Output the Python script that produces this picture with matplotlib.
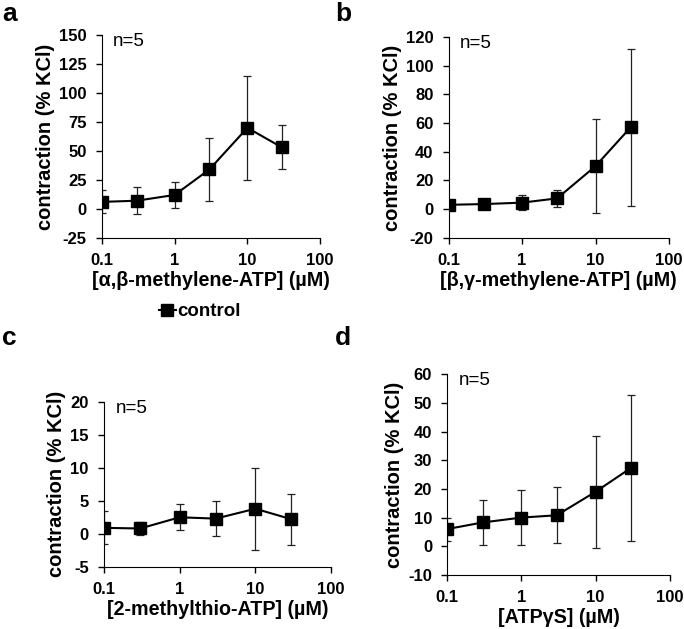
import matplotlib
matplotlib.use('Agg')
import matplotlib.pyplot as plt
from matplotlib.ticker import FixedLocator, NullLocator

plt.rcParams['font.family'] = ['Liberation Sans', 'DejaVu Sans']
plt.rcParams['axes.unicode_minus'] = False

# dados
conc = [0.1, 0.3, 1, 3, 10, 30]

a_mean = [6, 7, 12, 34, 70, 53]
a_err = [10, 11.5, 11, 27, 45, 19]

b_mean = [3, 3.5, 4.5, 7.5, 30, 57]
b_err = [0, 0, 5, 6, 33, 55]

c_mean = [0.9, 0.8, 2.5, 2.3, 3.8, 2.2]
c_err = [2.5, 1.0, 2.0, 2.7, 6.2, 3.9]

d_mean = [6, 8.3, 10, 10.8, 19, 27.3]
d_err = [4, 7.8, 9.5, 9.7, 19.5, 25.5]

xlabels = ['[α,β-methylene-ATP] (µM)', '[β,γ-methylene-ATP] (µM)',
           '[2-methylthio-ATP] (µM)', '[ATPγS] (µM)']
ylims = [(-25, 150), (-20, 120), (-5, 20), (-10, 60)]
yticks = [[-25, 0, 25, 50, 75, 100, 125, 150],
          [-20, 0, 20, 40, 60, 80, 100, 120],
          [-5, 0, 5, 10, 15, 20],
          [-10, 0, 10, 20, 30, 40, 50, 60]]
letters = ['a', 'b', 'c', 'd']

# posicoes dos eixos
positions = [[0.149, 0.622, 0.319, 0.322],
             [0.656, 0.622, 0.322, 0.319],
             [0.152, 0.099, 0.332, 0.262],
             [0.654, 0.086, 0.325, 0.319]]
letter_pos = [(0.003, 0.997), (0.490, 0.997), (0.003, 0.482), (0.490, 0.482)]

fig = plt.figure(figsize=(6.84, 6.29), dpi=100)

series = [(a_mean, a_err), (b_mean, b_err), (c_mean, c_err), (d_mean, d_err)]
for i, (mean, err) in enumerate(series):
    ax = fig.add_axes(positions[i])
    ax.errorbar(conc, mean, yerr=err, fmt='none', ecolor='#222222',
                elinewidth=0.9, capsize=3, capthick=0.9, zorder=2)
    line, = ax.plot(conc, mean, color='black', lw=1.5, marker='s', ms=8.5,
                    zorder=3, label='control')
    ax.set_xscale('log')
    ax.set_xlim(0.1, 100)
    ax.set_ylim(*ylims[i])
    ax.xaxis.set_major_locator(FixedLocator([0.1, 1, 10, 100]))
    ax.xaxis.set_minor_locator(NullLocator())
    ax.set_xticklabels(['0.1', '1', '10', '100'])
    ax.set_yticks(yticks[i])
    ax.spines['top'].set_visible(False)
    ax.spines['right'].set_visible(False)
    ax.tick_params(labelsize=12, width=1, length=4)
    ax.tick_params(axis='x', pad=7)
    ax.tick_params(axis='y', pad=7)
    for lbl in ax.get_xticklabels() + ax.get_yticklabels():
        lbl.set_fontweight('bold')
    ax.set_xlabel(xlabels[i], fontsize=14.2, fontweight='bold', labelpad=2)
    ax.set_ylabel('contraction (% KCl)', fontsize=14.5, fontweight='bold',
                  labelpad=3)
    ax.text(0.05, 1.01, 'n=5', transform=ax.transAxes, fontsize=13.5,
            va='top', ha='left')
    fig.text(letter_pos[i][0], letter_pos[i][1], letters[i], fontsize=19,
             fontweight='bold', va='top', ha='left')
    if i == 0:
        leg = ax.legend(handles=[line], loc='upper center',
                        bbox_to_anchor=(0.45, -0.24), frameon=False,
                        handlelength=0.9, handletextpad=0.1,
                        prop={'weight': 'bold', 'size': 13.5})

fig.savefig('out.png', dpi=100)
